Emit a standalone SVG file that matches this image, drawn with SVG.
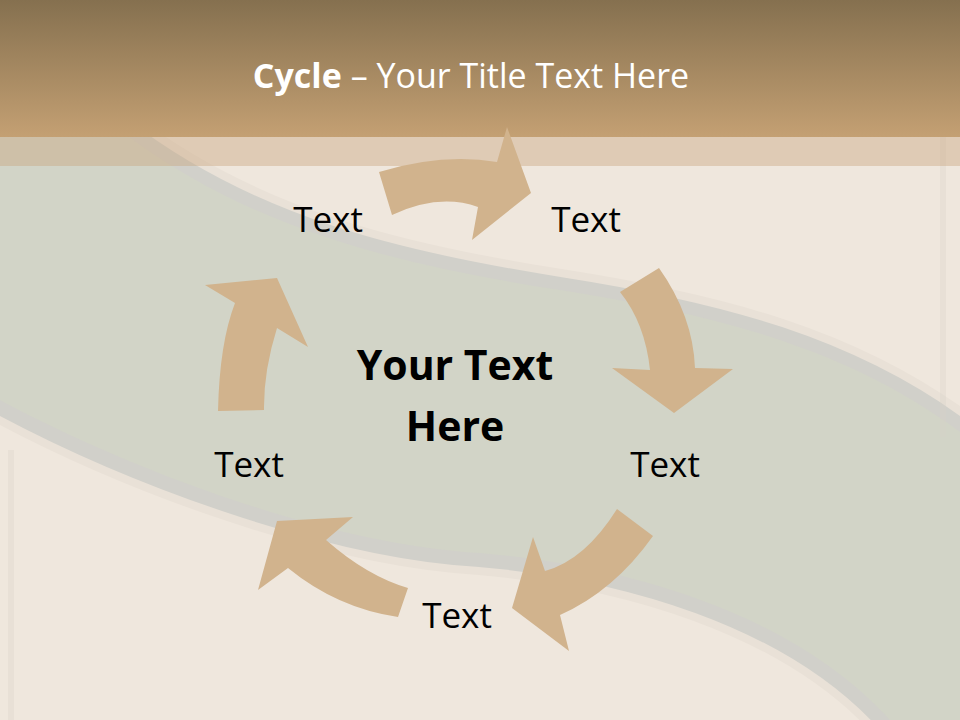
<svg xmlns="http://www.w3.org/2000/svg" width="960" height="720" viewBox="0 0 960 720">
<defs>
<linearGradient id="hdr" x1="0" y1="0" x2="0" y2="1">
<stop offset="0" stop-color="#85704f"/>
<stop offset="1" stop-color="#c4a073"/>
</linearGradient>
<style>
.arrow{fill:#d1b38d}
.lbl{font-family:"Open Sans","Liberation Sans",sans-serif;font-size:35px;fill:#000;text-anchor:middle}
.ctr{font-family:"Open Sans","Liberation Sans",sans-serif;font-size:41px;font-weight:bold;fill:#000;text-anchor:middle}
.ttl{font-family:"Open Sans","Liberation Sans",sans-serif;font-size:34px;fill:#fff;text-anchor:middle}
.s1{fill:none;stroke:#e9e1d7}
.s2{fill:none;stroke:#d1d0ca}
</style>
</defs>
<g id="background">
<rect x="0" y="0" width="960" height="720" fill="#efe7dd"/>
<path class="s1" stroke-width="42" d="M120,130 C250,230 400,265 560,290 C720,315 850,350 960,432"/>
<path class="s2" stroke-width="26" d="M120,130 C250,230 400,265 560,290 C720,315 850,350 960,432"/>
<path class="s1" stroke-width="44" d="M890,720 C790,610 620,565 480,553 C330,545 130,470 0,400"/>
<path class="s2" stroke-width="28" d="M890,720 C790,610 620,565 480,553 C330,545 130,470 0,400"/>
<path fill="#d2d4c7" d="M0,130 L120,130 C250,230 400,265 560,290 C720,315 850,350 960,432 L960,720 L890,720 C790,610 620,565 480,553 C330,545 130,470 0,400 Z"/>
<rect x="940" y="137" width="6" height="300" fill="#d8d0c6" opacity="0.3"/>
<rect x="8" y="450" width="6" height="270" fill="#d8d0c6" opacity="0.3"/>
<rect x="0" y="137" width="960" height="29" fill="#c8a27a" opacity="0.4"/>
<rect x="0" y="0" width="960" height="137" fill="url(#hdr)"/>
</g>
<g id="title">
<text class="ttl" x="471" y="88"><tspan font-weight="bold">Cycle</tspan> – Your Title Text Here</text>
</g>
<g id="connectors">
<path class="arrow" d="M379,172 L392,215 Q439,193 478,207 L472,240 L531,193 L507,127 L497,162 Q442,153 379,172 Z"/>
<path class="arrow" d="M620,292 L659,268 Q693,316 695,368 L733,369 L674,413 L612,368 L650,370 Q645,323 620,292 Z"/>
<path class="arrow" d="M617,509 L653,536 Q614,591 560,615 L569,651 L512,608 L533,537 L545,571 Q585,560 617,509 Z"/>
<path class="arrow" d="M408,588 L398,617 Q337,608 288,568 L258,590 L277,521 L353,517 L326,540 Q367,576 408,588 Z"/>
<path class="arrow" d="M218,411 L264,410 Q263.5,371 277,328 L308,347 L277,278 L205,285 L235,303 Q219.5,343 218,411 Z"/>
</g>
<g id="center"><text class="ctr" x="455" y="380">Your Text</text><text class="ctr" x="455" y="441">Here</text></g>
<g id="node1"><text class="lbl" x="328" y="232">Text</text></g>
<g id="node2"><text class="lbl" x="586" y="232">Text</text></g>
<g id="node3"><text class="lbl" x="665" y="477">Text</text></g>
<g id="node4"><text class="lbl" x="457" y="628">Text</text></g>
<g id="node5"><text class="lbl" x="249" y="477">Text</text></g>
</svg>
